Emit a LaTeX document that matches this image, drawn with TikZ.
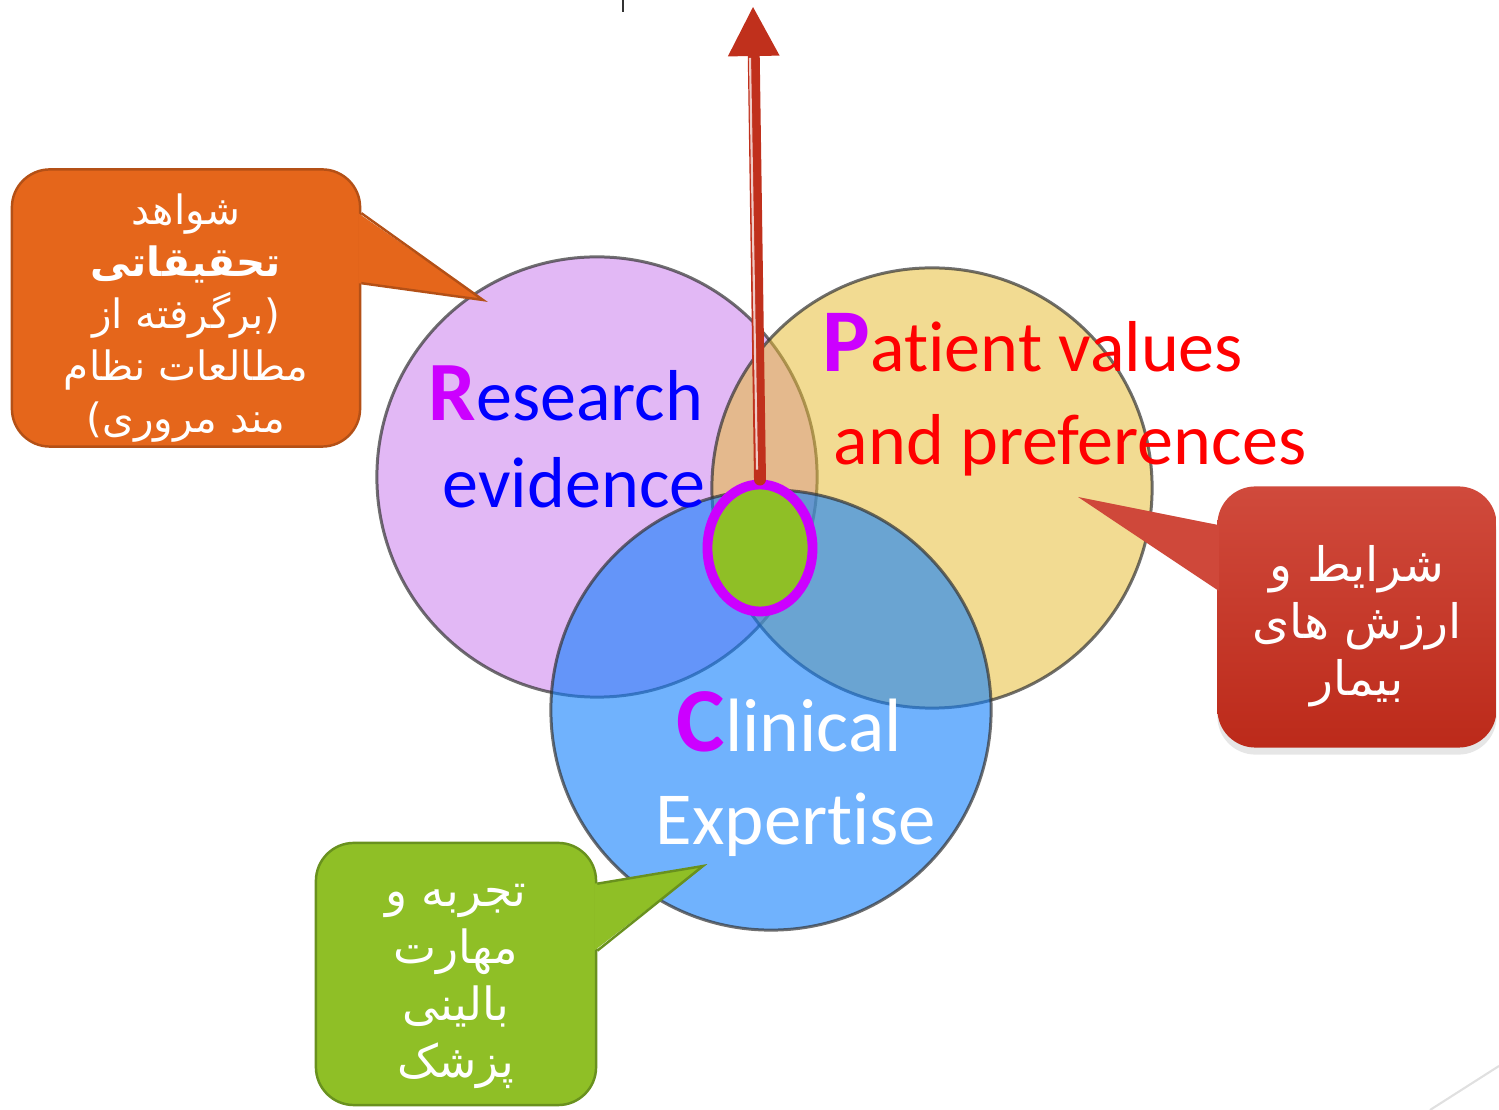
\documentclass[tikz,border=0pt]{standalone}
\usepackage{fontspec}
\setmainfont{Carlito}[Ligatures=NoCommon]
\newfontfamily\fafont[Script=Arabic]{DejaVu Sans}
\TeXXeTstate=1
\usetikzlibrary{positioning,calc,arrows.meta,shapes.geometric,shadows}

\definecolor{lilac}{RGB}{226,184,245}
\definecolor{sand}{RGB}{230,186,46}
\definecolor{sky}{RGB}{17,127,252}
\definecolor{leaf}{RGB}{143,191,38}
\definecolor{leafdark}{RGB}{105,145,30}
\definecolor{initial}{RGB}{204,0,255}
\definecolor{rust}{RGB}{192,48,28}
\definecolor{tangerine}{RGB}{229,102,27}
\definecolor{tangerinedark}{RGB}{180,80,22}
\definecolor{brick}{RGB}{208,74,60}
\definecolor{brickdark}{RGB}{188,42,26}

\tikzset{
  venn/.style={circle, minimum size=4.4cm, inner sep=0pt, draw=black!80,
    draw opacity=0.7, line width=0.85pt},
  circletext/.style={anchor=base west, inner sep=0pt, font=\fontsize{20.5}{24}\selectfont},
  callout/.style={rectangle, rounded corners=0.38cm, inner sep=0pt, line width=0.7pt},
  callouttext/.style={inner sep=0pt, align=center, text=white},
  pointer/.style={line width=0.7pt, line join=miter},
}

\begin{document}
\begin{tikzpicture}[x=0.01cm, y=-0.01cm]
  \useasboundingbox (0,0) rectangle (1499,1110);

  % the three circles
  \node[venn, fill=lilac] (R) at (597,477) {};
  \node[venn, fill=sand, fill opacity=0.52] (P) at (932,488) {};
  \node[venn, fill=sky, fill opacity=0.6] (C) at (771,710) {};

  % circle labels
  \node[circletext, text=blue] (rt1) at (428,421)
    {{\fontsize{24}{24}\selectfont\bfseries\color{initial}R}esearch};
  \node[circletext, text=blue] (rt2) at (442,508) {evidence};
  \node[circletext, text=red] (pt1) at (822,372)
    {{\fontsize{25.5}{24}\selectfont\bfseries\color{initial}P}atient values};
  \node[circletext, text=red] (pt2) at (833,465) {and preferences};
  \node[circletext, text=white, font=\fontsize{21.5}{24}\selectfont] (ct1) at (676,752)
    {{\fontsize{26}{24}\selectfont\bfseries\color{initial}C}linical};
  \node[circletext, text=white, font=\fontsize{21.3}{24}\selectfont] (ct2) at (655,845) {Expertise};

  % the centre and the arrow
  \node[ellipse, minimum width=1.05cm, minimum height=1.27cm, inner sep=0pt,
    fill=leaf, draw=initial, line width=2.8pt] (K) at (760,548) {};
  \coordinate (top) at (753,6);
  \draw[rust, line width=3.4pt, line cap=round,
    -{Triangle[width=0.48cm, length=0.5cm]}] (K.north) -- (top);
  \draw[white!75!rust, line width=0.6pt] ($(K.north)+(-3,-10)$) -- ($(top)+(-3,52)$);

  % callouts
  \node[callout, fill=tangerine, draw=tangerinedark, minimum width=3.48cm,
    minimum height=2.77cm] (OB) at (186,308) {};
  \node[callouttext, font=\fafont\fontsize{11.5}{14.8}\selectfont] (OT) at ($(OB.center)+(0,10)$)
    {\beginR شواهد\endR\\{\bfseries\beginR تحقیقاتی\endR}\\\beginR (برگرفته از\endR\\\beginR مطالعات نظام\endR\\\beginR مند مروری)\endR};
  \coordinate (Otip) at (483,300);
  \fill[tangerine] ($(OB.north east)+(-3,45)$) -- (Otip) -- ($(OB.north east)+(-3,115)$) -- cycle;
  \draw[pointer, tangerinedark] ($(OB.north east)+(0,45)$) -- (Otip) -- ($(OB.north east)+(0,115)$);

  \node[callout, top color=brick, bottom color=brickdark, minimum width=2.79cm,
    minimum height=2.61cm, drop shadow={shadow xshift=0pt, shadow yshift=-2pt, opacity=0.2}]
    (RB) at (1357,617) {};
  \node[callouttext, font=\fafont\fontsize{13.5}{16.2}\selectfont] (RT) at ($(RB.center)+(0,9)$)
    {\beginR شرایط و\endR\\\beginR ارزش های\endR\\\beginR بیمار\endR};
  \coordinate (Rtip) at (1078,497);
  \fill[brick!95!brickdark] ($(RB.north west)+(3,40)$) -- (Rtip) -- ($(RB.north west)+(3,106)$) -- cycle;

  \node[callout, fill=leaf, draw=leafdark, minimum width=2.8cm,
    minimum height=2.62cm] (GB) at (456,974) {};
  \node[callouttext, font=\fafont\fontsize{13}{16.2}\selectfont] (GT) at ($(GB.center)+(0,12)$)
    {\beginR تجربه و\endR\\\beginR مهارت\endR\\\beginR بالینی\endR\\\beginR پزشک\endR};
  \coordinate (Gtip) at (703,866);
  \fill[leaf] ($(GB.north east)+(-3,42)$) -- (Gtip) -- ($(GB.north east)+(-3,109)$) -- cycle;
  \draw[pointer, leafdark] ($(GB.north east)+(0,42)$) -- (Gtip) -- ($(GB.north east)+(0,109)$);

  % marks at the edges
  \draw[black!80, line width=0.6pt] (623,0) -- (623,12);
  \draw[black!12, line width=0.6pt] (1430,1110) -- (1499,1066);
\end{tikzpicture}
\end{document}
